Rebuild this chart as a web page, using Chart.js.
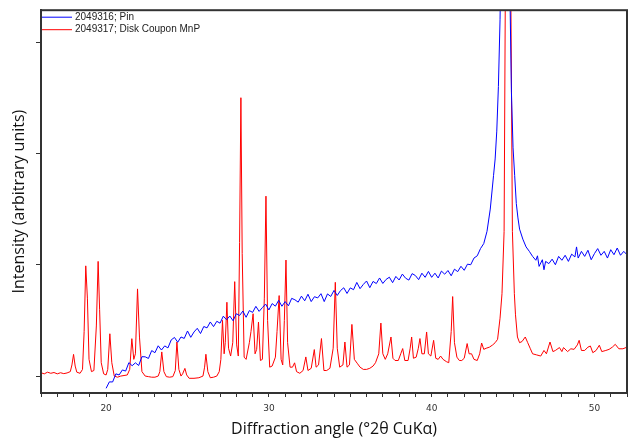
<!DOCTYPE html>
<html>
<head>
<meta charset="utf-8">
<script src="https://cdn.jsdelivr.net/npm/chart.js@4"></script>
<style>
  html, body { margin: 0; padding: 0; background: #fff; }
  #wrap { width: 633px; height: 442px; }
</style>
</head>
<body>
<div id="wrap"><canvas id="xrd" width="633" height="442"></canvas></div>
<script>
// scan ranges and tick positions
const angleRange = [16, 52];
const intensityRange = [-152, 3286];
const intensityTicks = [0, 1000, 2000, 3000];
const seriesNames = ["2049316; Pin", "2049317; Disk Coupon MnP"];
const seriesColors = ["#0000ff", "#ff0000"];

// 2049316; Pin  -- [°2θ, counts]
const pinScan = [
  [20.0,-110],[20.2,-52],[20.4,-53],[20.6,20],[20.8,10],[21.0,55],[21.2,45],[21.4,121],[21.6,93],[21.8,119],
  [22.0,95],[22.2,174],[22.4,173],[22.6,158],[22.8,229],[23.0,210],[23.2,272],[23.4,234],[23.6,271],[23.8,253],
  [24.0,325],[24.2,347],[24.4,304],[24.6,351],[24.8,338],[25.0,405],[25.2,348],[25.4,396],[25.6,429],[25.8,382],
  [26.0,445],[26.2,433],[26.4,486],[26.6,444],[26.8,492],[27.0,475],[27.2,538],[27.4,506],[27.6,539],[27.8,497],
  [28.0,560],[28.2,544],[28.4,584],[28.6,528],[28.8,588],[29.0,572],[29.2,626],[29.4,581],[29.6,615],[29.8,647],
  [30.0,594],[30.2,651],[30.4,628],[30.6,680],[30.8,627],[31.0,669],[31.2,631],[31.4,698],[31.6,685],[31.8,664],
  [32.0,718],[32.2,676],[32.4,735],[32.6,669],[32.8,713],[33.0,702],[33.2,740],[33.4,669],[33.6,738],[33.8,715],
  [34.0,769],[34.2,724],[34.4,768],[34.6,793],[34.8,742],[35.0,792],[35.2,776],[35.4,841],[35.6,785],[35.8,823],
  [36.0,854],[36.2,794],[36.4,850],[36.6,831],[36.8,881],[37.0,832],[37.2,868],[37.4,888],[37.6,839],[37.8,895],
  [38.0,863],[38.2,916],[38.4,879],[38.6,862],[38.8,920],[39.0,903],[39.2,866],[39.4,924],[39.6,887],[39.8,940],
  [40.0,887],[40.2,924],[40.4,881],[40.6,943],[40.8,915],[41.0,948],[41.2,901],[41.4,960],[41.6,938],[41.8,986],
  [42.0,950],[42.2,1005],[42.4,1000],[42.6,1060],[42.8,1080],[43.0,1145],[43.2,1190],[43.4,1300],[43.6,1500],[43.8,1800],
  [43.9,1950],[44.0,2200],[44.1,2600],[44.2,3200],[44.3,4200],[44.4,4600],[44.5,4500],[44.6,4300],[44.7,4000],[44.8,3500],
  [44.9,2550],[45.0,2050],[45.1,1800],[45.2,1550],[45.3,1420],[45.4,1320],[45.6,1230],[45.8,1160],[46.0,1120],[46.2,1075],
  [46.4,1040],[46.5,1080],[46.6,985],[46.8,1045],[46.9,955],[47.0,1030],[47.2,1010],[47.4,1050],[47.6,1000],[47.8,1075],
  [48.0,1040],[48.2,1085],[48.4,1030],[48.6,1095],[48.8,1070],[48.9,1160],[49.0,1060],[49.2,1120],[49.4,1075],[49.6,1130],
  [49.8,1045],[50.0,1100],[50.2,1145],[50.4,1085],[50.6,1120],[50.8,1060],[51.0,1135],[51.2,1090],[51.4,1150],[51.6,1085],
  [51.8,1120],[52.0,1090]
];

// 2049317; Disk Coupon MnP  -- [°2θ, counts]
const diskScan = [
  [16.0,30],[16.2,20],[16.4,35],[16.6,25],[16.8,32],[17.0,20],[17.2,30],[17.4,22],[17.6,28],[17.8,40],
  [17.9,100],[18.0,195],[18.1,90],[18.2,35],[18.4,25],[18.55,60],[18.65,400],[18.75,990],[18.85,700],[18.95,150],
  [19.1,40],[19.25,50],[19.4,450],[19.51,1030],[19.6,600],[19.7,120],[19.85,20],[20.0,10],[20.1,60],[20.23,380],
  [20.35,120],[20.5,0],[20.7,-10],[20.9,0],[21.1,5],[21.3,10],[21.45,60],[21.58,336],[21.7,150],[21.8,200],
  [21.93,783],[22.05,350],[22.2,40],[22.4,0],[22.6,-5],[22.8,-10],[23.0,-10],[23.2,0],[23.3,40],[23.42,217],
  [23.55,40],[23.7,-5],[23.9,-10],[24.1,-5],[24.25,50],[24.35,306],[24.47,60],[24.6,0],[24.7,20],[24.84,69],
  [24.95,10],[25.1,-20],[25.4,-20],[25.7,-15],[25.95,0],[26.05,80],[26.13,196],[26.25,40],[26.4,-15],[26.6,-10],
  [26.8,0],[26.95,40],[27.05,150],[27.15,500],[27.25,200],[27.32,300],[27.42,663],[27.52,250],[27.65,180],[27.78,300],
  [27.9,848],[28.02,280],[28.12,180],[28.2,1200],[28.28,2500],[28.36,1100],[28.48,170],[28.6,150],[28.8,300],[28.9,400],
  [29.03,560],[29.15,200],[29.25,240],[29.36,485],[29.48,140],[29.6,150],[29.72,700],[29.82,1616],[29.92,500],[30.05,80],
  [30.2,90],[30.4,170],[30.5,400],[30.63,723],[30.75,150],[30.85,100],[30.95,500],[31.05,1042],[31.15,300],[31.3,80],
  [31.45,80],[31.58,119],[31.7,40],[31.9,25],[32.1,50],[32.27,172],[32.4,50],[32.6,70],[32.79,238],[32.9,80],
  [33.05,100],[33.23,337],[33.38,50],[33.55,50],[33.75,70],[33.95,250],[34.08,842],[34.2,250],[34.35,80],[34.55,100],
  [34.67,306],[34.8,80],[34.95,100],[35.1,464],[35.25,150],[35.45,110],[35.6,80],[35.8,60],[36.0,60],[36.2,70],
  [36.4,90],[36.55,120],[36.75,200],[36.88,476],[37.0,200],[37.15,150],[37.3,200],[37.5,351],[37.62,160],[37.75,140],
  [37.95,140],[38.1,200],[38.22,247],[38.35,140],[38.55,140],[38.68,250],[38.77,351],[38.88,160],[39.05,170],[39.18,250],
  [39.28,337],[39.4,200],[39.55,200],[39.69,396],[39.8,200],[39.95,180],[40.12,321],[40.25,160],[40.4,150],[40.55,180],
  [40.7,150],[40.9,130],[41.05,120],[41.2,400],[41.29,714],[41.4,300],[41.55,170],[41.7,140],[41.85,140],[42.0,160],
  [42.18,292],[42.3,200],[42.45,200],[42.6,150],[42.8,140],[42.95,200],[43.07,297],[43.2,240],[43.35,250],[43.55,260],
  [43.75,280],[43.9,300],[44.05,330],[44.2,520],[44.32,740],[44.45,1300],[44.52,3300],[44.6,5500],[44.7,6500],[44.8,5500],
  [44.87,3300],[44.96,1300],[45.08,740],[45.15,550],[45.27,351],[45.4,300],[45.55,310],[45.75,351],[45.9,300],[46.05,250],
  [46.2,200],[46.45,190],[46.7,180],[46.9,230],[47.05,200],[47.27,306],[47.45,220],[47.6,230],[47.85,256],[48.0,220],
  [48.1,256],[48.35,220],[48.55,245],[48.75,240],[48.95,280],[49.06,321],[49.2,230],[49.4,230],[49.6,260],[49.75,270],
  [49.9,210],[50.1,230],[50.3,277],[50.45,220],[50.7,230],[50.9,240],[51.1,260],[51.28,285],[51.5,245],[51.75,245],
  [52.0,260]
];

const toPoints = scan => scan.map(p => ({ x: p[0], y: p[1] }));
const axisColor = "#333";

// box round the plot + legend in its top-left corner
const frameAndLegend = {
  id: "frameAndLegend",
  afterDatasetsDraw(chart) {
    const { ctx, chartArea: a } = chart;
    ctx.save();
    ctx.strokeStyle = axisColor;
    ctx.lineWidth = 2;
    ctx.strokeRect(a.left, a.top, a.right - a.left, a.bottom - a.top);

    ctx.font = "10px 'Liberation Sans'";
    ctx.textBaseline = "middle";
    chart.data.datasets.forEach((ds, i) => {
      const y = a.top + 7 + i * 12.5;
      ctx.strokeStyle = ds.borderColor;
      ctx.lineWidth = 1;
      ctx.beginPath();
      ctx.moveTo(a.left + 1, y);
      ctx.lineTo(a.left + 31, y);
      ctx.stroke();
      ctx.fillStyle = "#222";
      ctx.fillText(ds.label, a.left + 34, y);
    });
    ctx.restore();
  }
};

new Chart(document.getElementById("xrd"), {
  type: "line",
  data: {
    datasets: [
      { label: seriesNames[0], data: toPoints(pinScan), borderColor: seriesColors[0], borderWidth: 1, pointRadius: 0, tension: 0 },
      { label: seriesNames[1], data: toPoints(diskScan), borderColor: seriesColors[1], borderWidth: 1, pointRadius: 0, tension: 0 }
    ]
  },
  options: {
    responsive: false,
    animation: false,
    layout: { padding: { top: 8, right: 5, bottom: 0, left: 0 } },
    plugins: { legend: { display: false }, tooltip: { enabled: false } },
    scales: {
      x: {
        type: "linear",
        min: angleRange[0],
        max: angleRange[1],
        afterFit: s => { s.height = 49; },
        ticks: {
          stepSize: 1, autoSkip: false, maxRotation: 0, padding: 6,
          color: "#333", font: { family: "DejaVu Sans", size: 9 },
          callback: v => (v % 10 === 0 ? v : "")
        },
        grid: { drawOnChartArea: false, color: axisColor, tickLength: 4 },
        border: { color: axisColor, width: 2 },
        title: {
          display: true, text: "Diffraction angle (°2θ CuKα)", color: "#111",
          font: { family: "Open Sans", size: 16 }, padding: { top: 0, bottom: 3 }
        }
      },
      y: {
        min: intensityRange[0],
        max: intensityRange[1],
        afterFit: s => { s.width = 41; },
        afterBuildTicks: s => { s.ticks = intensityTicks.map(v => ({ value: v })); },
        ticks: { callback: () => "" },
        grid: { drawOnChartArea: false, color: axisColor, tickLength: 5 },
        border: { color: axisColor, width: 2 },
        title: {
          display: true, text: "Intensity (arbitrary units)", color: "#111",
          font: { family: "Open Sans", size: 16 }, padding: { top: 10, bottom: 0 }
        }
      }
    }
  },
  plugins: [frameAndLegend]
});
</script>
</body>
</html>
